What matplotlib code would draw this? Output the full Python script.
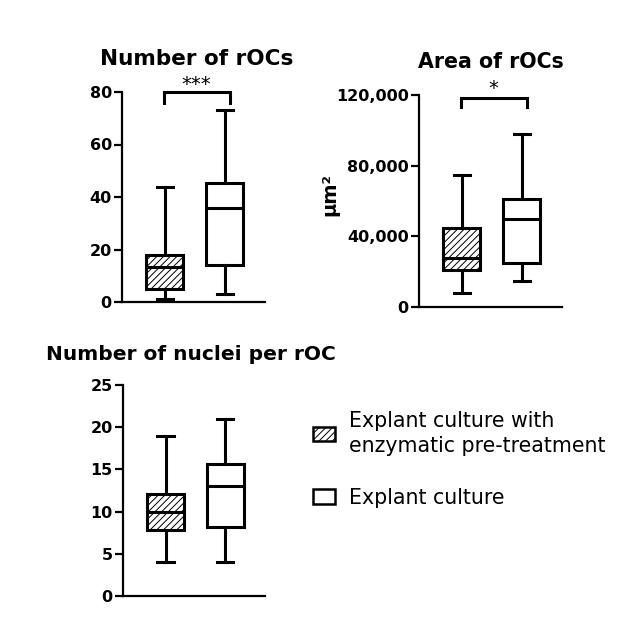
import matplotlib
matplotlib.use("Agg")
import matplotlib.pyplot as plt
from matplotlib.patches import Patch

# ---- data ----
groups = ["Explant culture with\nenzymatic pre-treatment", "Explant culture"]
stat_keys = ["whislo", "q1", "med", "q3", "whishi"]

rocs_count = [[1, 5, 13.3, 17.8, 44], [3, 14, 36, 45.3, 73]]
rocs_area = [[8000, 21000, 28000, 45000, 75000], [15000, 25000, 50000, 61000, 98000]]
nuclei_per_roc = [[4, 7.8, 10, 12.1, 19], [4, 8.2, 13, 15.6, 21]]

titles = ["Number of rOCs", "Area of rOCs", "Number of nuclei per rOC"]
yticks_count = [0, 20, 40, 60, 80]
yticks_area = [0, 40000, 80000, 120000]
ytick_labels_area = ["0", "40,000", "80,000", "120,000"]
yticks_nuclei = [0, 5, 10, 15, 20, 25]
sig_count = "***"
sig_area = "*"

plt.rcParams["font.family"] = ["DejaVu Sans"]
plt.rcParams["hatch.linewidth"] = 0.7

fig = plt.figure(figsize=(6.24, 6.19), dpi=100)
W, H = 624, 619

def add_ax(l, r, b, t):
    return fig.add_axes([l / W, 1 - b / H, (r - l) / W, (b - t) / H])

ax1 = add_ax(122, 265, 302, 92)
ax2 = add_ax(419, 562, 307, 95)
ax3 = add_ax(123, 265, 596, 385)

LW = 2.2
TICK_FS = 11.5

def draw_box(ax, data):
    stats = [dict(zip(stat_keys, d)) for d in data]
    bp = ax.bxp(stats, positions=[1, 2], widths=0.62, patch_artist=True,
                showfliers=False, capwidths=0.27,
                boxprops=dict(linewidth=LW, facecolor="white", edgecolor="black"),
                whiskerprops=dict(linewidth=LW, color="black"),
                capprops=dict(linewidth=LW, color="black"),
                medianprops=dict(linewidth=LW, color="black"))
    bp["boxes"][0].set_hatch("/////")
    ax.set_xlim(0.286, 2.67)
    ax.set_xticks([])
    for s in ["top", "right"]:
        ax.spines[s].set_visible(False)
    for s in ["left", "bottom"]:
        ax.spines[s].set_linewidth(1.6)
    ax.tick_params(axis="y", length=5.8, width=1.6, pad=1.5, labelsize=TICK_FS)
    return bp

draw_box(ax1, rocs_count)
ax1.set_ylim(0, 80)
ax1.set_yticks(yticks_count)
ax1.set_yticklabels([str(v) for v in yticks_count], fontweight="bold")

draw_box(ax2, rocs_area)
ax2.set_ylim(0, 120000)
ax2.set_yticks(yticks_area)
ax2.set_yticklabels(ytick_labels_area, fontweight="bold")
ax2.set_ylabel("μm²", fontsize=14, fontweight="bold")
ax2.yaxis.set_label_coords(-0.56, 0.53)

draw_box(ax3, nuclei_per_roc)
ax3.set_ylim(0, 25)
ax3.set_yticks(yticks_nuclei)
ax3.set_yticklabels([str(v) for v in yticks_nuclei], fontweight="bold")

# titles
ax1.text(0.52, 1 + 27 / 210, titles[0], transform=ax1.transAxes, ha="center",
         va="baseline", fontsize=15.5, fontweight="bold")
ax2.text(0.5, 1 + 27 / 212, titles[1], transform=ax2.transAxes, ha="center",
         va="baseline", fontsize=14.8, fontweight="bold")
ax3.text(-0.542, 1 + 25 / 211, titles[2], transform=ax3.transAxes, ha="left",
         va="baseline", fontsize=14.5, fontweight="bold")

# significance brackets
def bracket(ax, x1, x2, ytop, yleg, ytext, label):
    ax.plot([x1, x1, x2, x2], [yleg, ytop, ytop, yleg], color="black",
            lw=LW, clip_on=False, solid_joinstyle="miter")
    ax.text((x1 + x2) / 2, ytext, label, ha="center", va="center",
            fontsize=14, clip_on=False)

bracket(ax1, 0.98, 2.08, 80, 76, 83.0, sig_count)
bracket(ax2, 0.98, 2.08, 118300, 113000, 123500, sig_area)

# legend
handles = [Patch(facecolor="white", edgecolor="black", hatch="/////", lw=1.8),
           Patch(facecolor="white", edgecolor="black", lw=1.8)]
leg = fig.legend(handles=handles, labels=groups, loc="upper left",
                 bbox_to_anchor=(313 / W, 1 - 411 / H), frameon=False,
                 fontsize=14.8, handlelength=1.07, handleheight=0.68,
                 handletextpad=0.68, labelspacing=1.55, borderpad=0,
                 borderaxespad=0)
for t in leg.get_texts():
    t.set_linespacing(1.3)

fig.savefig("out.png", dpi=100, facecolor="white")
